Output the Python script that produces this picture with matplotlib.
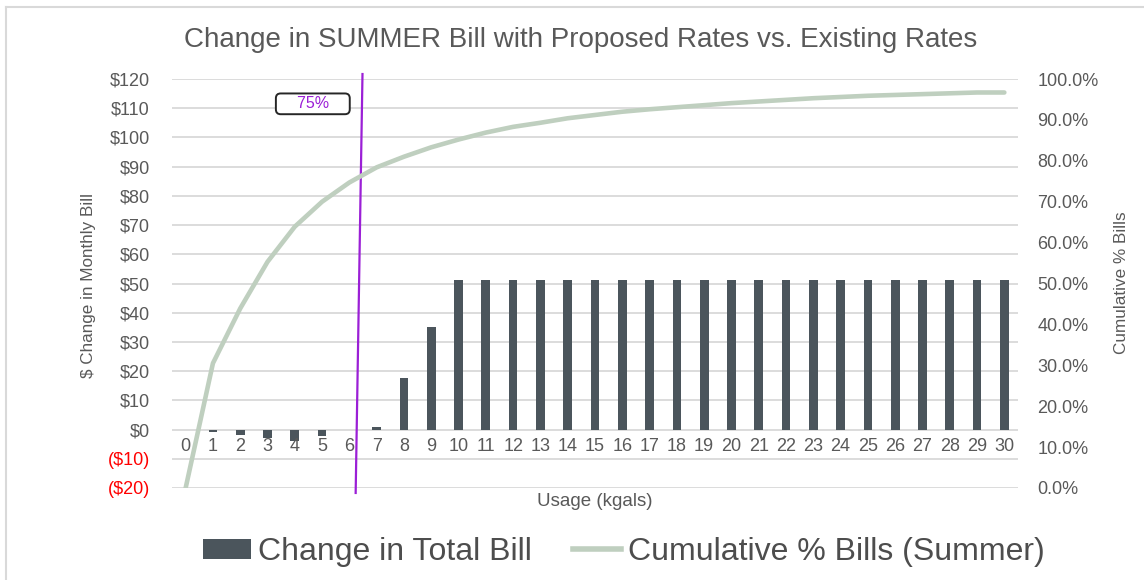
import matplotlib
matplotlib.use("Agg")
import matplotlib.pyplot as plt
from matplotlib.lines import Line2D
from matplotlib.patches import Patch
from matplotlib.ticker import FuncFormatter

# ---------------- data ----------------
usage = list(range(0, 31))
bill_change = [0.0, -0.9, -2.0, -3.0, -4.0, -2.3, -0.3, 1.0, 17.5, 35.0,
               51.3, 51.3, 51.3, 51.3, 51.3, 51.3, 51.3, 51.3, 51.3, 51.3,
               51.3, 51.3, 51.3, 51.3, 51.3, 51.3, 51.3, 51.3, 51.3, 51.3, 51.3]
cum_pct = [0.0, 30.5, 43.9, 55.3, 63.9, 70.0, 74.7, 78.4, 81.0, 83.3,
           85.2, 86.9, 88.3, 89.3, 90.4, 91.2, 92.0, 92.6, 93.1, 93.6,
           94.1, 94.5, 94.9, 95.3, 95.6, 95.9, 96.1, 96.3, 96.5, 96.7, 96.7]
left_ticks = [-20, -10, 0, 10, 20, 30, 40, 50, 60, 70, 80, 90, 100, 110, 120]
right_ticks = [0, 10, 20, 30, 40, 50, 60, 70, 80, 90, 100]
marker_x = [6.48, 6.23]
marker_y = [121.7, -21.7]
marker_label = "75%"
marker_label_pos = (4.66, 111.5)

title = "Change in SUMMER Bill with Proposed Rates vs. Existing Rates"
bar_name = "Change in Total Bill"
line_name = "Cumulative % Bills (Summer)"

# ---------------- style ----------------
W, H = 1144, 580
BAR_C = "#4b555c"
LINE_C = "#bfcfbf"
GRID_C = "#d9d9d9"
TXT_C = "#595959"
PURPLE = "#9b1fd6"
FONT = "Liberation Sans"

plt.rcParams['font.family'] = [FONT, 'DejaVu Sans']

fig = plt.figure(figsize=(W / 100, H / 100), dpi=100)
ax = fig.add_axes([172 / W, 1 - 488 / H, (1018 - 172) / W, (488 - 79) / H])
ax2 = ax.twinx()

ax.bar(usage, bill_change, width=0.32, color=BAR_C, zorder=3)
ax.set_xlim(-0.5, 30.5)
ax.set_ylim(-20, 120)
ax.set_yticks(left_ticks)
ax.yaxis.grid(True, color=GRID_C, linewidth=1.3, zorder=0)
ax.set_axisbelow(True)
for s in ax.spines.values():
    s.set_visible(False)
for s in ax2.spines.values():
    s.set_visible(False)


def money(v, pos=None):
    v = int(round(v))
    return f"(${abs(v)})" if v < 0 else f"${v}"


ax.yaxis.set_major_formatter(FuncFormatter(money))
ax.tick_params(axis='y', length=0, pad=16, labelsize=13, labelcolor=TXT_C)
for lab, t in zip(ax.get_yticklabels(), left_ticks):
    if t < 0:
        lab.set_color("#ff0000")

ax.set_xticks([])
for u in usage:
    ax.annotate(str(u), xy=(u, 0), xytext=(0, -6), textcoords='offset points',
                ha='center', va='top', fontsize=13, color=TXT_C)

ax2.plot(usage, cum_pct, color=LINE_C, linewidth=3.3, solid_capstyle='round', zorder=4)
ax2.set_ylim(0, 100)
ax2.set_yticks(right_ticks)
ax2.yaxis.set_major_formatter(FuncFormatter(lambda v, p: f"{v:.1f}%"))
ax2.tick_params(axis='y', length=0, pad=14, labelsize=13, labelcolor=TXT_C)

# 75% marker line and label
ax.plot(marker_x, marker_y, color=PURPLE, linewidth=1.6, clip_on=False, zorder=5)
ax.annotate("    " + marker_label + "    ", xy=marker_label_pos, ha='center', va='center',
            fontsize=11.5, color=PURPLE, zorder=6,
            bbox=dict(boxstyle="round,pad=0.18,rounding_size=0.3", fc="white",
                      ec="#262626", lw=1.4))

# titles
fig.text(581 / W, 1 - 40 / H, title, ha='center', va='center', fontsize=20, color=TXT_C)
fig.text(88 / W, 1 - 285 / H, "$ Change in Monthly Bill", rotation=90, ha='center',
         va='center', fontsize=12.3, color=TXT_C)
fig.text(1122 / W, 1 - 283 / H, "Cumulative % Bills", rotation=90, ha='center',
         va='center', fontsize=12.3, color=TXT_C)
fig.text(595 / W, 1 - 502 / H, "Usage (kgals)", ha='center', va='center',
         fontsize=13.5, color=TXT_C)

handles = [Patch(facecolor=BAR_C, edgecolor='none'),
           Line2D([], [], color=LINE_C, linewidth=4)]
fig.legend(handles, [bar_name, line_name], loc='center', ncol=2,
           bbox_to_anchor=(624 / W, 1 - 552 / H), frameon=False, fontsize=23,
           handlelength=1.5, handleheight=0.6, handletextpad=0.22,
           columnspacing=1.3, labelcolor="#4d4d4d")

# outer frame (top & left edges visible)
fig.add_artist(Line2D([6 / W, 1.0], [1 - 7 / H, 1 - 7 / H], color=GRID_C, linewidth=1.5,
                      transform=fig.transFigure))
fig.add_artist(Line2D([6 / W, 6 / W], [0.0, 1 - 7 / H], color=GRID_C, linewidth=1.5,
                      transform=fig.transFigure))

fig.savefig("out.png", dpi=100, facecolor="white")
